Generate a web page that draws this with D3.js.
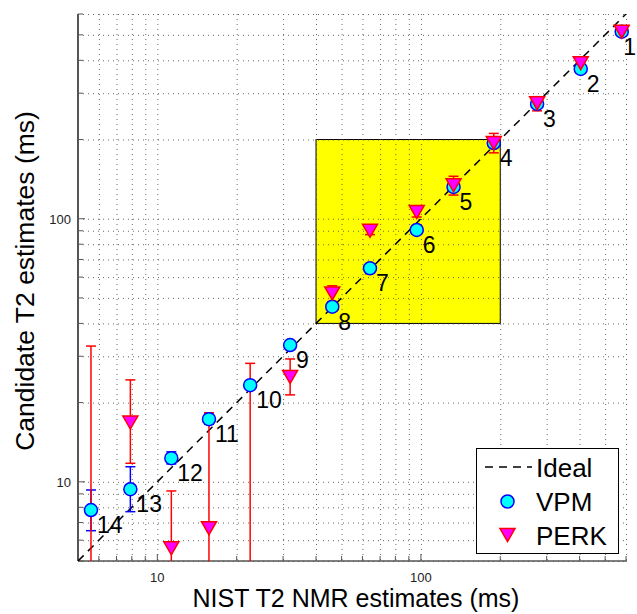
<!DOCTYPE html>
<html><head><meta charset="utf-8">
<script src="https://cdn.jsdelivr.net/npm/d3@7"></script>
<style>body{margin:0;background:#fff} text{font-family:"Liberation Sans",Arial,Helvetica,sans-serif}</style>
</head><body><svg id="c" width="637" height="614"></svg>
<script>
const pointLabels = ["1","2","3","4","5","6","7","8","9","10","11","12","13","14"];
const nist   = [578, 404, 276, 189, 133, 96.4, 64.1, 46.1, 31.9, 22.5, 15.7, 11.3, 7.9, 5.6];
const vpm    = [514, 371, 273, 194, 132, 90.6, 64.8, 46.3, 33.1, 23.3, 17.3, 12.3, 9.37, 7.81];
const vpmLo  = [505, 362, 266, 189, 128, 88.5, 63.5, 45.5, 32.5, 22.8, 16.54, 11.69, 7.70, 6.52];
const vpmHi  = [523, 380, 280, 199, 136, 92.7, 66.0, 47.2, 33.7, 23.8, 18.06, 13.0, 11.41, 9.31];
const perk   = [514, 390, 275, 194, 134, 106, 90, 52, 25, 2.5, 6.66, 5.59, 16.8, 2.0];
const perkLo = [500, 370, 257, 178, 123, 101.5, 87, 48.4, 21.4, 0.5, 1.0, 2.0, 11.76, 0.5];
const perkHi = [528, 411, 291, 211, 145, 110.5, 93, 55.6, 29.3, 28.2, 18.3, 9.23, 24.4, 32.8];
const axisDomain = [5, 600];
const xTickLabels = [10, 100];
const yTickLabels = [10, 100];
const highlightBox = [40, 200];
const legendLabels = ["Ideal", "VPM", "PERK"];
const xTitle = "NIST T2 NMR estimates (ms)";
const yTitle = "Candidate T2 estimates (ms)";

const W = 637;
const svg = d3.select("#c");
const L = 78, R = 626, T = 14, B = 561;
const x = d3.scaleLog().domain(axisDomain).range([L, R]);
const y = d3.scaleLog().domain(axisDomain).range([B, T]);

const gridVals = [];
for (let d = 1; d <= 100; d *= 10) for (let m = 1; m <= 9; m++) {
  const v = m * d;
  if (v >= axisDomain[0] && v <= axisDomain[1]) gridVals.push(v);
}

svg.append("clipPath").attr("id", "clip").append("rect")
  .attr("x", L).attr("y", T).attr("width", R - L).attr("height", B - T);

svg.append("rect")
  .attr("x", x(highlightBox[0])).attr("y", y(highlightBox[1]))
  .attr("width", x(highlightBox[1]) - x(highlightBox[0]))
  .attr("height", y(highlightBox[0]) - y(highlightBox[1]))
  .attr("fill", "#ffff00").attr("stroke", "#000").attr("stroke-width", 1);

const grid = svg.append("g").attr("stroke", "#444").attr("stroke-width", 1)
  .attr("stroke-dasharray", "1,4").attr("opacity", 0.8);
grid.selectAll("line.v").data(gridVals).join("line").attr("class", "v")
  .attr("x1", d => x(d) + 0.5).attr("x2", d => x(d) + 0.5).attr("y1", T).attr("y2", B);
grid.selectAll("line.h").data(gridVals).join("line").attr("class", "h")
  .attr("y1", d => y(d) + 0.5).attr("y2", d => y(d) + 0.5).attr("x1", L).attr("x2", R);

const axCol = "#555";
const axg = svg.append("g");
axg.selectAll("line.xt").data(gridVals).join("line")
  .attr("x1", d => x(d)).attr("x2", d => x(d))
  .attr("y1", B).attr("y2", d => B - (xTickLabels.includes(d) ? 7 : 5))
  .attr("stroke", axCol).attr("stroke-width", 1);
axg.selectAll("line.yt").data(gridVals).join("line")
  .attr("y1", d => y(d)).attr("y2", d => y(d))
  .attr("x1", L).attr("x2", d => L + (yTickLabels.includes(d) ? 7 : 5))
  .attr("stroke", axCol).attr("stroke-width", 1);
axg.append("line").attr("x1", L).attr("x2", R + 1).attr("y1", B).attr("y2", B)
  .attr("stroke", axCol).attr("stroke-width", 1.5);
axg.append("line").attr("x1", L).attr("x2", L).attr("y1", T).attr("y2", B)
  .attr("stroke", axCol).attr("stroke-width", 2);

svg.append("g").selectAll("text").data(xTickLabels).join("text")
  .attr("x", d => x(d)).attr("y", B + 21).attr("text-anchor", "middle")
  .attr("font-size", 13).attr("fill", "#222").text(d => d);
svg.append("g").selectAll("text").data(yTickLabels).join("text")
  .attr("x", L - 7).attr("y", d => y(d) + 5).attr("text-anchor", "end")
  .attr("font-size", 13).attr("fill", "#222").text(d => d);

svg.append("text").attr("x", 356).attr("y", 607).attr("text-anchor", "middle")
  .attr("font-size", 25).attr("fill", "#000").text(xTitle);
svg.append("text").attr("transform", "translate(34,281) rotate(-90)")
  .attr("text-anchor", "middle").attr("font-size", 26.5).attr("fill", "#000").text(yTitle);

const plot = svg.append("g").attr("clip-path", "url(#clip)");
plot.append("line")
  .attr("x1", x(axisDomain[0])).attr("y1", y(axisDomain[0]))
  .attr("x2", x(axisDomain[1])).attr("y2", y(axisDomain[1]))
  .attr("stroke", "#000").attr("stroke-width", 1.5).attr("stroke-dasharray", "8,6");

const idx = d3.range(nist.length);
function errBars(lo, hi, col) {
  const g = plot.append("g").attr("stroke", col).attr("stroke-width", 1.5).attr("fill", "none");
  g.selectAll("line.s").data(idx).join("line")
    .attr("x1", i => x(nist[i])).attr("x2", i => x(nist[i]))
    .attr("y1", i => y(lo[i])).attr("y2", i => y(hi[i]));
  g.selectAll("line.lo").data(idx).join("line")
    .attr("x1", i => x(nist[i]) - 5).attr("x2", i => x(nist[i]) + 5)
    .attr("y1", i => y(lo[i])).attr("y2", i => y(lo[i]));
  g.selectAll("line.hi").data(idx).join("line")
    .attr("x1", i => x(nist[i]) - 5).attr("x2", i => x(nist[i]) + 5)
    .attr("y1", i => y(hi[i])).attr("y2", i => y(hi[i]));
}
errBars(vpmLo, vpmHi, "#0000ff");
errBars(perkLo, perkHi, "#ff0000");

const tri = "M-7.5,-6.5L7.5,-6.5L0,6.5Z";
const inDom = v => v >= axisDomain[0] && v <= axisDomain[1];
svg.append("g").selectAll("circle").data(idx.filter(i => inDom(vpm[i]))).join("circle")
  .attr("cx", i => x(nist[i])).attr("cy", i => y(vpm[i])).attr("r", 6.5)
  .attr("fill", "#00ffff").attr("stroke", "#0000ff").attr("stroke-width", 1.5);
svg.append("g").selectAll("path").data(idx.filter(i => inDom(perk[i]))).join("path")
  .attr("transform", i => `translate(${x(nist[i])},${y(perk[i])})`).attr("d", tri)
  .attr("fill", "#ff00ff").attr("stroke", "#ff0000").attr("stroke-width", 1.5);

// point labels (kept inside the picture)
svg.append("g").selectAll("text").data(idx).join("text")
  .attr("x", i => x(nist[i]) + 6).attr("y", i => y(vpm[i]) + 23)
  .attr("font-size", 23).attr("fill", "#000").text(i => pointLabels[i])
  .each(function () {
    const w = this.getComputedTextLength();
    const x0 = +this.getAttribute("x");
    if (x0 + w > W - 1) this.setAttribute("x", W - 1 - w);
  });

const lg = svg.append("g");
lg.append("rect").attr("x", 476.5).attr("y", 448.5).attr("width", 142).attr("height", 105)
  .attr("fill", "#fff").attr("stroke", "#000").attr("stroke-width", 1);
const rows = [467, 501.5, 535];
lg.append("line").attr("x1", 485).attr("x2", 532).attr("y1", rows[0]).attr("y2", rows[0])
  .attr("stroke", "#000").attr("stroke-width", 1.5).attr("stroke-dasharray", "8,6");
lg.append("circle").attr("cx", 507.5).attr("cy", rows[1]).attr("r", 6.5)
  .attr("fill", "#00ffff").attr("stroke", "#0000ff").attr("stroke-width", 1.5);
lg.append("path").attr("transform", `translate(507.5,${rows[2]})`).attr("d", tri)
  .attr("fill", "#ff00ff").attr("stroke", "#ff0000").attr("stroke-width", 1.5);
lg.selectAll("text").data(legendLabels).join("text")
  .attr("x", 536).attr("y", (d, i) => rows[i] + 9.5)
  .attr("font-size", 26).attr("fill", "#000").text(d => d);
</script></body></html>
